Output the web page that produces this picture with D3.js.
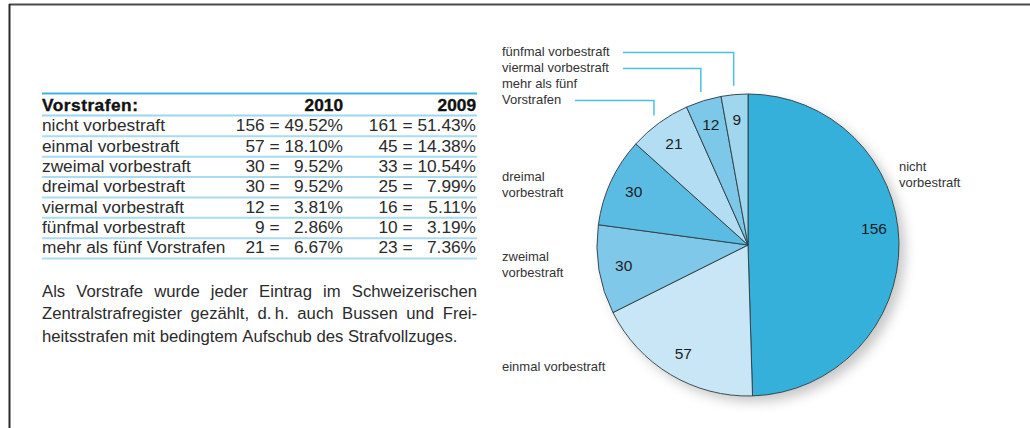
<!DOCTYPE html>
<html>
<head>
<meta charset="utf-8">
<script src="https://cdn.jsdelivr.net/npm/d3@7"></script>
<style>
  body { margin: 0; background: #fff; }
  svg { display: block; font-family: "Liberation Sans", Arial, sans-serif; }
</style>
</head>
<body>
<svg width="1030" height="428"></svg>
<script>
// data
const categories = ["nicht vorbestraft", "einmal vorbestraft", "zweimal vorbestraft", "dreimal vorbestraft",
                    "viermal vorbestraft", "fünfmal vorbestraft", "mehr als fünf Vorstrafen"];
const years = ["2010", "2009"];
const values2010 = [156, 57, 30, 30, 12, 9, 21];
const pct2010 = ["49.52%", "18.10%", "9.52%", "9.52%", "3.81%", "2.86%", "6.67%"];
const values2009 = [161, 45, 33, 25, 16, 10, 23];
const pct2009 = ["51.43%", "14.38%", "10.54%", "7.99%", "5.11%", "3.19%", "7.36%"];
// order of the slices clockwise from 12 o'clock
const pieOrder = [0, 1, 2, 3, 6, 4, 5];
const pieLabels = [["nicht", "vorbestraft"], ["einmal vorbestraft"], ["zweimal", "vorbestraft"], ["dreimal", "vorbestraft"],
                   ["viermal vorbestraft"], ["fünfmal vorbestraft"], ["mehr als fünf", "Vorstrafen"]];
const noteLines = ["Als Vorstrafe wurde jeder Eintrag im Schweizerischen",
                   "Zentralstrafregister gezählt, d.\u2009h. auch Bussen und Frei-",
                   "heitsstrafen mit bedingtem Aufschub des Strafvollzuges."];

const colors = ["#34b0da", "#c8e6f5", "#80c8e9", "#5abce3", "#7dc8e8", "#a0d6ee", "#b2ddf2"];

var svg = d3.select("svg");

// frame
svg.append("line").attr("x1", 9).attr("x2", 1030).attr("y1", 4.5).attr("y2", 4.5)
    .attr("stroke", "#4a4a4a").attr("stroke-width", 2);
svg.append("line").attr("x1", 9.5).attr("x2", 9.5).attr("y1", 4).attr("y2", 428)
    .attr("stroke", "#2a2a2a").attr("stroke-width", 2);

// ---- table ----
var fs = 17.3;
var tbl = svg.append("g").attr("fill", "#2b2b2b").style("font-size", fs + "px");
var left = 42, right = 477;
var yRow = d3.scaleBand().domain(d3.range(categories.length)).range([116, 258.5]);
var pctW = 3.391 * fs, spW = 0.278 * fs, eqW = 0.584 * fs;
var cols = [
  {count: values2010, pct: pct2010, pctR: 343},
  {count: values2009, pct: pct2009, pctR: 476}
];
cols.forEach(c => {
  c.eq = c.pctR - pctW - spW - eqW / 2;
  c.countR = c.eq - eqW / 2 - spW;
});

tbl.append("line").attr("x1", left).attr("x2", right).attr("y1", 93.5).attr("y2", 93.5)
    .attr("stroke", "#3cb4e0").attr("stroke-width", 2);
tbl.append("text").attr("x", left).attr("y", 111).style("font-weight", "bold")
    .style("letter-spacing", "0.5px").attr("stroke", "#111").attr("stroke-width", 0.35)
    .attr("fill", "#111").text("Vorstrafen:");
cols.forEach((c, j) => {
  tbl.append("text").attr("x", c.pctR).attr("y", 111).attr("text-anchor", "end")
      .style("font-weight", "bold").attr("stroke", "#111").attr("stroke-width", 0.35)
      .attr("fill", "#111").text(years[j]);
});
tbl.append("line").attr("x1", left).attr("x2", right).attr("y1", 115.5).attr("y2", 115.5)
    .attr("stroke", "#9fd6ef").attr("stroke-width", 2);

var rows = tbl.selectAll(".row").data(categories).enter().append("g").attr("class", "row");
rows.append("text").attr("x", left).attr("y", (d, i) => yRow(i) + 15.3).text(d => d);
cols.forEach(c => {
  rows.append("text").attr("x", c.countR).attr("y", (d, i) => yRow(i) + 15.3)
      .attr("text-anchor", "end").text((d, i) => c.count[i]);
  rows.append("text").attr("x", c.eq).attr("y", (d, i) => yRow(i) + 15.3)
      .attr("text-anchor", "middle").text("=");
  rows.append("text").attr("x", c.pctR).attr("y", (d, i) => yRow(i) + 15.3)
      .attr("text-anchor", "end").text((d, i) => c.pct[i]);
});
rows.append("line").attr("x1", left).attr("x2", right)
    .attr("y1", (d, i) => yRow(i) + yRow.bandwidth())
    .attr("y2", (d, i) => yRow(i) + yRow.bandwidth())
    .attr("stroke", "#a9dbf1").attr("stroke-width", 2);

// ---- note, justified ----
var note = svg.append("g").attr("fill", "#2b2b2b").style("font-size", "16.7px");
noteLines.forEach((line, li) => {
  var y = 296.5 + li * 22.8;
  var words = line.split(" ");
  var tmp = note.append("text").attr("y", y);
  var ws = words.map(w => { tmp.text(w); return tmp.node().getComputedTextLength(); });
  tmp.remove();
  var gap;
  if (li < noteLines.length - 1) {
    gap = (right - left - d3.sum(ws)) / (words.length - 1);
  } else {
    gap = 4.6;
  }
  var x = left;
  words.forEach((w, k) => {
    note.append("text").attr("x", x).attr("y", y).text(w);
    x += ws[k] + gap;
  });
});

// ---- pie ----
var cx = 748, cy = 245, r = 151;
var defs = svg.append("defs");
var f = defs.append("filter").attr("id", "shadow").attr("x", "-20%").attr("y", "-20%").attr("width", "150%").attr("height", "150%");
f.append("feDropShadow").attr("dx", 6).attr("dy", 6).attr("stdDeviation", 6)
    .attr("flood-color", "#000").attr("flood-opacity", 0.22);

var pieG = svg.append("g").attr("transform", "translate(" + cx + "," + cy + ")");
var pie = d3.pie().sort(null).value(i => values2010[i]);
var arcs = pie(pieOrder);
var arc = d3.arc().innerRadius(0).outerRadius(r);
var labelArc = d3.arc().innerRadius(126).outerRadius(126);
var leaderArc = d3.arc().innerRadius(160).outerRadius(160);

pieG.append("circle").attr("r", r).attr("fill", "#fff").attr("filter", "url(#shadow)");
pieG.selectAll("path").data(arcs).enter().append("path")
    .attr("d", arc)
    .attr("fill", d => colors[d.data])
    .attr("stroke", "#2e3a40").attr("stroke-width", 0.9)
    .attr("stroke-linejoin", "round");

pieG.selectAll(".val").data(arcs).enter().append("text")
    .attr("class", "val")
    .attr("x", d => labelArc.centroid(d)[0])
    .attr("y", d => labelArc.centroid(d)[1] + (d.data === 0 ? -15 : 0))
    .attr("dy", "0.35em").attr("text-anchor", "middle")
    .style("font-size", "15.5px").attr("fill", "#1e1e1e")
    .text(d => values2010[d.data]);

// outer labels (placement in page coordinates)
var labelPos = {0: [899, 171], 1: [502, 371], 2: [502, 261], 3: [502, 181], 4: [502, 72], 5: [502, 56], 6: [502, 88]};
var outer = svg.append("g").style("font-size", "13px").attr("fill", "#333");
arcs.forEach(d => {
  var p = labelPos[d.data];
  var t = outer.append("text").attr("x", p[0]).attr("y", p[1]);
  pieLabels[d.data].forEach((s, k) => {
    t.append("tspan").attr("x", p[0]).attr("dy", k === 0 ? 0 : 16).text(s);
  });
});

// leader lines for the small slices at the top
var leaders = {5: [623, 52.5], 4: [623, 68.5], 6: [575, 100.5]};
arcs.filter(d => leaders[d.data]).forEach(d => {
  var c = leaderArc.centroid(d);
  var ex = cx + c[0], ey = cy + c[1];
  var L = leaders[d.data];
  svg.append("path")
      .attr("d", "M" + L[0] + "," + L[1] + "H" + ex + "V" + ey)
      .attr("fill", "none").attr("stroke", "#4cbfe3").attr("stroke-width", 1.5);
});
</script>
</body>
</html>
